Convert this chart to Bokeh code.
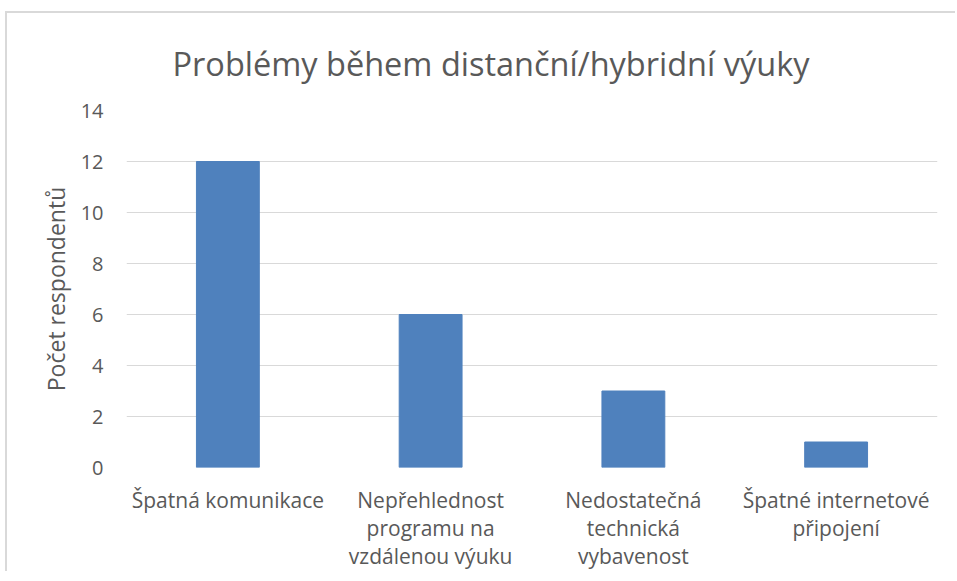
from bokeh.plotting import figure
from bokeh.models import Range1d, FactorRange, FixedTicker
from bokeh.embed import file_html
from bokeh.resources import INLINE

title_text = "Problémy během distanční/hybridní výuky"
y_label = "Počet respondentů"
tick_labels = ["Špatná komunikace", "Nepřehlednost\nprogramu na\nvzdálenou výuku",
               "Nedostatečná\ntechnická\nvybavenost", "Špatné internetové\npřipojení"]
counts = [12, 6, 3, 1]
y_ticks = [0, 2, 4, 6, 8, 10, 12, 14]

FONT = "Open Sans"
TXT = "#595959"

p = figure(width=950, height=560, output_backend="svg", toolbar_location=None,
           x_range=FactorRange(factors=tick_labels, range_padding=0),
           y_range=Range1d(0, 14),
           min_border_left=119, min_border_right=20, min_border_top=97, min_border_bottom=106,
           styles={"margin-left": "5px", "margin-top": "11px",
                   "border-left": "2px solid #d9d9d9", "border-top": "2px solid #d9d9d9"})
p.outline_line_color = None
p.background_fill_color = "white"
p.border_fill_color = "white"

p.vbar(x=tick_labels, top=counts, width=0.31, color="#4f81bd")

p.xgrid.grid_line_color = None
p.ygrid.grid_line_color = "#d9d9d9"
p.ygrid.grid_line_width = 1
p.yaxis.ticker = FixedTicker(ticks=y_ticks)

for ax in (p.xaxis[0], p.yaxis[0]):
    ax.axis_line_color = None
    ax.major_tick_line_color = None
    ax.minor_tick_line_color = None
    ax.major_tick_out = 0
    ax.major_tick_in = 0
    ax.major_label_text_font = FONT
    ax.major_label_text_color = TXT
    ax.major_label_text_font_size = "20px"

p.xaxis.major_label_text_font_size = "21px"
p.xaxis.major_label_standoff = 18
p.xaxis.major_label_text_line_height = 1.0
p.yaxis.major_label_standoff = 23
p.yaxis.axis_label = y_label
p.yaxis.axis_label_text_font = FONT
p.yaxis.axis_label_text_font_style = "normal"
p.yaxis.axis_label_text_color = TXT
p.yaxis.axis_label_text_font_size = "23px"
p.yaxis.axis_label_standoff = 6

p.title.text = title_text
p.title.align = "left"
p.title.offset = 46
p.title.text_font = FONT
p.title.text_font_style = "normal"
p.title.text_font_size = "32.5px"
p.title.text_color = TXT
p.title.standoff = 50

open("out.html", "w").write(file_html(p, INLINE))
